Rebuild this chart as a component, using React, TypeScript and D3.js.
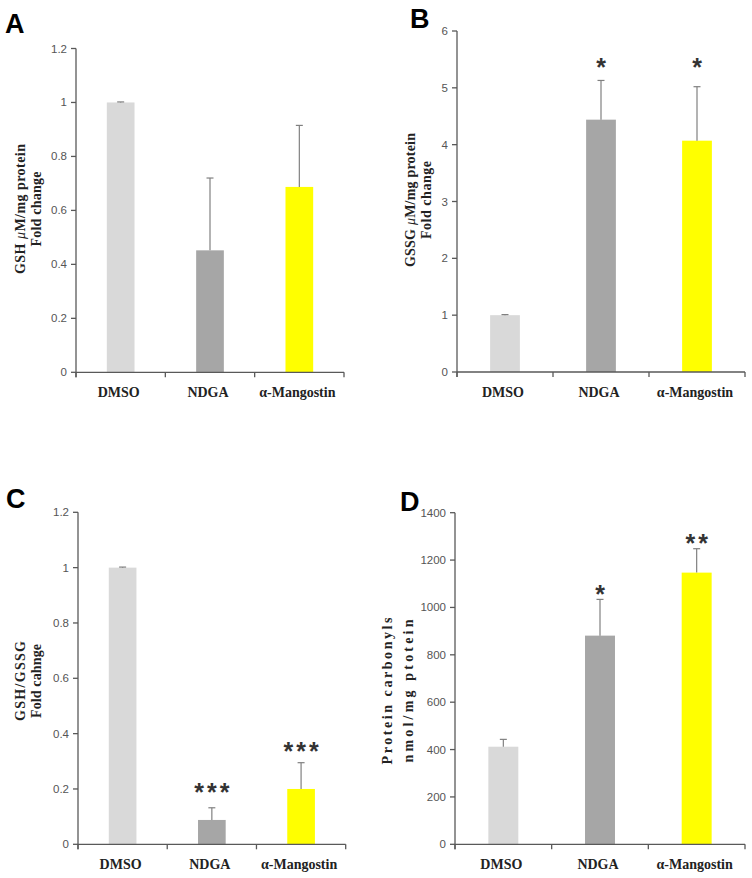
import React from "react";
import * as d3 from "d3";

const categories = ["DMSO", "NDGA", "α-Mangostin"];
const barColors = ["#d9d9d9", "#a6a6a6", "#ffff00"];

const gshMean = [1.0, 0.452, 0.687];
const gshErr = [0.002, 0.268, 0.228];
const gshTicks = [0, 0.2, 0.4, 0.6, 0.8, 1, 1.2];

const gssgMean = [1.0, 4.44, 4.07];
const gssgErr = [0.01, 0.69, 0.95];
const gssgTicks = [0, 1, 2, 3, 4, 5, 6];
const gssgSig = ["", "*", "*"];
const gssgSigAt = [0, 5.46, 5.46];

const ratioMean = [1.0, 0.088, 0.2];
const ratioErr = [0.002, 0.044, 0.095];
const ratioTicks = [0, 0.2, 0.4, 0.6, 0.8, 1, 1.2];
const ratioSig = ["", "***", "***"];
const ratioSigAt = [0, 0.208, 0.356];

const carbMean = [412, 881, 1147];
const carbErr = [31, 153, 101];
const carbTicks = [0, 200, 400, 600, 800, 1000, 1200, 1400];
const carbSig = ["", "*", "**"];
const carbSigAt = [0, 1081, 1296];

type PanelProps = {
  letter: string;
  letterX: number;
  letterY: number;
  x0: number;
  x1: number;
  yBottom: number;
  yTop: number;
  ticks: number[];
  mean: number[];
  err: number[];
  sig?: string[];
  sigAt?: number[];
  title1: React.ReactNode;
  title2: string;
  t1x: number;
  t2x: number;
  tc: number;
  t1len: number;
  t2len: number;
};

const AXIS = "#595959";
const ERR = "#808080";
const SIG_SIZE = 25;

function Panel(p: PanelProps) {
  const y = d3
    .scaleLinear()
    .domain([0, p.ticks[p.ticks.length - 1]])
    .range([p.yBottom, p.yTop]);
  const x = d3.scaleBand<string>().domain(categories).range([p.x0, p.x1]).padding(0);
  const bw = x.bandwidth() * 0.31;
  const boundaries = categories.map((c) => x(c) as number).concat([p.x1]);
  return (
    <g>
      <text
        x={p.letterX}
        y={p.letterY}
        fontFamily="Liberation Sans, Arial, sans-serif"
        fontWeight="bold"
        fontSize={27}
        fill="#000"
      >
        {p.letter}
      </text>
      {p.mean.map((m, i) => {
        const cx = (x(categories[i]) as number) + x.bandwidth() / 2;
        return (
          <rect
            key={"b" + i}
            x={cx - bw / 2}
            y={y(m)}
            width={bw}
            height={y(0) - y(m)}
            fill={barColors[i]}
          />
        );
      })}
      {p.mean.map((m, i) => {
        const cx = (x(categories[i]) as number) + x.bandwidth() / 2;
        const top = y(m + p.err[i]);
        return (
          <g key={"e" + i} stroke={ERR} strokeWidth={1.2}>
            <line x1={cx} x2={cx} y1={y(m)} y2={top} />
            <line x1={cx - 3.5} x2={cx + 3.5} y1={top} y2={top} />
          </g>
        );
      })}
      {p.sig &&
        p.sig.map((s, i) => {
          if (!s) return null;
          const cx = (x(categories[i]) as number) + x.bandwidth() / 2;
          return (
            <text
              key={"s" + i}
              x={cx + (s.length > 1 ? 1.5 : 0)}
              y={y((p.sigAt as number[])[i]) + SIG_SIZE * 0.57}
              textAnchor="middle"
              fontFamily="Liberation Sans, Arial, sans-serif"
              fontWeight="bold"
              fontSize={SIG_SIZE}
              fill="#333"
              letterSpacing={s.length > 1 ? 3 : 0}
            >
              {s}
            </text>
          );
        })}
      <line x1={p.x0} x2={p.x0} y1={p.yTop} y2={p.yBottom + 5} stroke={AXIS} strokeWidth={1.3} />
      {p.ticks.map((t) => (
        <g key={"t" + t}>
          <line x1={p.x0 - 5} x2={p.x0} y1={y(t)} y2={y(t)} stroke={AXIS} strokeWidth={1.3} />
          <text
            x={p.x0 - 9}
            y={y(t) + 4}
            textAnchor="end"
            fontFamily="Liberation Sans, Arial, sans-serif"
            fontSize={11.5}
            fill="#555"
          >
            {t}
          </text>
        </g>
      ))}
      <line x1={p.x0} x2={p.x1} y1={p.yBottom} y2={p.yBottom} stroke={AXIS} strokeWidth={1.3} />
      {boundaries.map((bx, i) => (
        <line key={"xt" + i} x1={bx} x2={bx} y1={p.yBottom} y2={p.yBottom + 5} stroke={AXIS} strokeWidth={1.3} />
      ))}
      {categories.map((c) => (
        <text
          key={"c" + c}
          x={(x(c) as number) + x.bandwidth() / 2 - 2}
          y={p.yBottom + 25}
          textAnchor="middle"
          fontFamily="Liberation Serif, Times New Roman, serif"
          fontWeight="bold"
          fontSize={14}
          fill="#222"
        >
          {c}
        </text>
      ))}
      <g fontFamily="Liberation Serif, Times New Roman, serif" fontWeight="bold" fontSize={14} fill="#222">
        <text
          transform={`translate(${p.t1x},${p.tc}) rotate(-90)`}
          textAnchor="middle"
          textLength={p.t1len}
          lengthAdjust="spacing"
        >
          {p.title1}
        </text>
        <text
          transform={`translate(${p.t2x},${p.tc}) rotate(-90)`}
          textAnchor="middle"
          textLength={p.t2len}
          lengthAdjust="spacing"
        >
          {p.title2}
        </text>
      </g>
    </g>
  );
}

const mu = (
  <tspan fontStyle="italic" fontWeight="normal">
    μ
  </tspan>
);

export default function App() {
  return (
    <svg
      width={752}
      height={878}
      style={{ position: "absolute", left: 0, top: 0, background: "#fff" }}
    >
      <rect width={752} height={878} fill="#fff" />
      <Panel
        letter="A"
        letterX={5}
        letterY={33}
        x0={76}
        x1={344}
        yBottom={372.3}
        yTop={48.5}
        ticks={gshTicks}
        mean={gshMean}
        err={gshErr}
        title1={<>GSH {mu}M/mg protein</>}
        title2="Fold change"
        t1x={24.5}
        t2x={40.5}
        tc={209}
        t1len={130}
        t2len={75}
      />
      <Panel
        letter="B"
        letterX={410}
        letterY={28}
        x0={457}
        x1={745}
        yBottom={372}
        yTop={31}
        ticks={gssgTicks}
        mean={gssgMean}
        err={gssgErr}
        sig={gssgSig}
        sigAt={gssgSigAt}
        title1={<>GSSG {mu}M/mg protein</>}
        title2="Fold change"
        t1x={414.5}
        t2x={430.5}
        tc={200}
        t1len={134}
        t2len={78}
      />
      <Panel
        letter="C"
        letterX={6}
        letterY={508}
        x0={78}
        x1={345.7}
        yBottom={844.3}
        yTop={512.3}
        ticks={ratioTicks}
        mean={ratioMean}
        err={ratioErr}
        sig={ratioSig}
        sigAt={ratioSigAt}
        title1="GSH/GSSG"
        title2="Fold cahnge"
        t1x={24.5}
        t2x={40.5}
        tc={681}
        t1len={80}
        t2len={74}
      />
      <Panel
        letter="D"
        letterX={400}
        letterY={511}
        x0={455}
        x1={745}
        yBottom={844.3}
        yTop={512.7}
        ticks={carbTicks}
        mean={carbMean}
        err={carbErr}
        sig={carbSig}
        sigAt={carbSigAt}
        title1="Protein carbonyls"
        title2="nmol/mg ptotein"
        t1x={391.5}
        t2x={412.5}
        tc={691}
        t1len={147}
        t2len={143}
      />
    </svg>
  );
}
